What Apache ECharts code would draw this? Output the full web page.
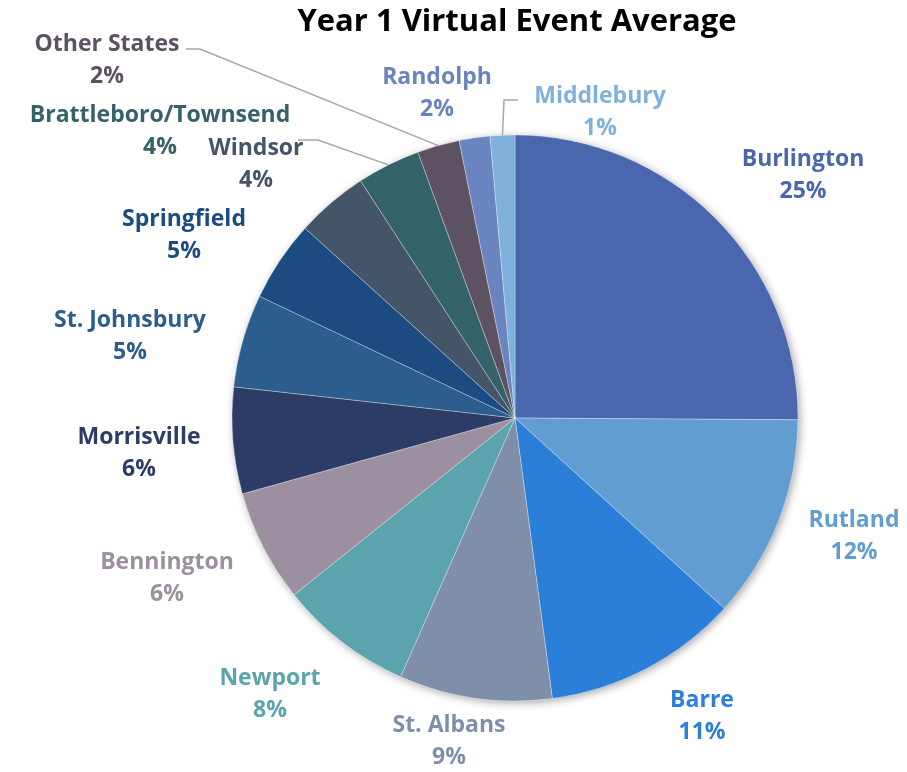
<!DOCTYPE html>
<html>
<head>
<meta charset="utf-8">
<script src="https://cdn.jsdelivr.net/npm/echarts@6/dist/echarts.min.js"></script>
<style>html,body{margin:0;padding:0;background:#fff;}#c{width:907px;height:772px;}</style>
</head>
<body>
<div id="c"></div>
<script>
// Data
const categories = ['Burlington','Rutland','Barre','St. Albans','Newport','Bennington','Morrisville','St. Johnsbury','Springfield','Windsor','Brattleboro/Townsend','Other States','Randolph','Middlebury'];
const values = [25.0, 11.6, 11.1, 8.7, 7.6, 6.4, 6.05, 5.3, 4.6, 4.1, 3.6, 2.4, 1.75, 1.4];
const colors = ['#4a67ad','#619dd0','#2b7fd8','#7f8fa9','#5ba3ad','#9b8fa0','#2c3c66','#2b5e8c','#1b4b80','#445469','#336268','#5d5262','#6a84c0','#80b0dc'];

// Layout (label anchors, px)
const labelPos = [[803,175],[854,536],[702,716],[449,741],[270,694],[167,578],[139,453],[130,336],[184,235],[256,164],[160,131],[107,60],[437,93],[600,112]];
const lineLabels = {10: [[318,140],[298,140]], 11: [[200,49],[186,49]], 13: [[504,100],[518,100]]};

const total = values.reduce((a,b)=>a+b,0);
const data = categories.map((n,i)=>({
  name: n, value: values[i],
  itemStyle: {color: colors[i]},
  label: {color: colors[i]},
  labelLine: {show: !!lineLabels[i]}
}));

const chart = echarts.init(document.getElementById('c'));
chart.setOption({
  animation: false,
  title: {
    text: 'Year 1 Virtual Event Average',
    left: 512, top: 2, textAlign: 'center',
    textStyle: {fontFamily: 'Open Sans', fontWeight: 'bold', fontSize: 31, color: '#000'}
  },
  series: [
    {
      type: 'pie', silent: true, center: [515,418], radius: 283, z: 1,
      label: {show: false}, labelLine: {show: false},
      itemStyle: {color: '#fff', shadowBlur: 8, shadowColor: 'rgba(0,0,0,0.35)', shadowOffsetX: 2, shadowOffsetY: 2},
      data: [{value: 1}]
    },
    {
      type: 'pie', center: [515,418], radius: 283, z: 2,
      startAngle: 90, clockwise: true,
      itemStyle: {borderColor: 'rgba(255,255,255,0.5)', borderWidth: 0.6},
      label: {
        show: true, position: 'outside', overflow: 'none', alignTo: 'none',
        formatter: p => p.name + '\n' + Math.round(p.value / total * 100) + '%',
        fontFamily: 'Open Sans', fontWeight: 'bold', fontSize: 23, lineHeight: 32, align: 'center'
      },
      labelLine: {lineStyle: {color: '#a6a6a6', width: 1.5}, smooth: false},
      labelLayout: function (params) {
        const i = params.dataIndex;
        const p = labelPos[i];
        const res = {x: p[0], y: p[1], align: 'center', verticalAlign: 'middle'};
        if (lineLabels[i] && params.labelLinePoints) {
          const start = params.labelLinePoints[0];
          res.labelLinePoints = [start, lineLabels[i][0], lineLabels[i][1]];
        }
        return res;
      },
      data: data
    }
  ]
});
</script>
</body>
</html>
